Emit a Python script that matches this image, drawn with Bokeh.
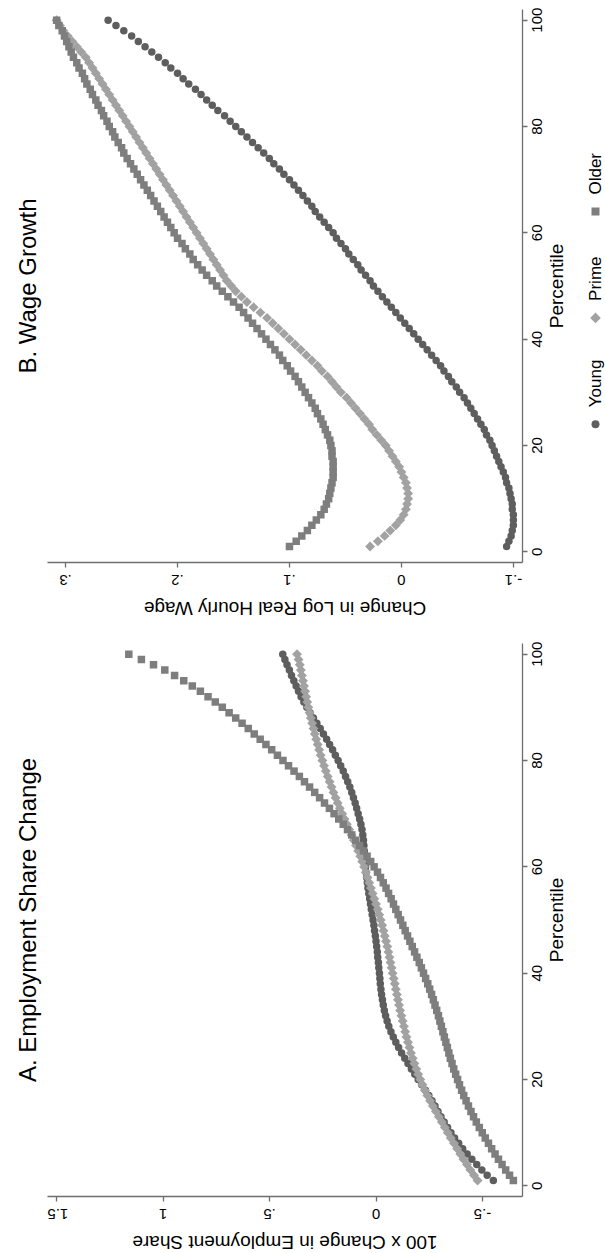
import math

from bokeh.core.properties import value
from bokeh.embed import file_html
from bokeh.layouts import column, row
from bokeh.models import FixedTicker, LinearAxis, Range1d
from bokeh.plotting import figure
from bokeh.resources import INLINE

FONT = "Liberation Sans"

# ---- data -------------------------------------------------------------
percentile = list(range(1, 101))
pct_ticks = [0, 20, 40, 60, 80, 100]
pct_tick_labels = ["0", "20", "40", "60", "80", "100"]

groups = ["Young", "Prime", "Older"]

emp_ticks = [-0.5, 0, 0.5, 1, 1.5]
emp_tick_labels = ["-.5", "0", ".5", "1", "1.5"]
wage_ticks = [-0.1, 0, 0.1, 0.2, 0.3]
wage_tick_labels = ["-.1", "0", ".1", ".2", ".3"]

# 100 x change in employment share, by wage percentile
emp_young = [
    -0.551, -0.522, -0.497, -0.473, -0.450, -0.428, -0.407, -0.388, -0.369, -0.352,
    -0.336, -0.320, -0.305, -0.291, -0.277, -0.263, -0.248, -0.232, -0.215, -0.198,
    -0.182, -0.166, -0.150, -0.135, -0.120, -0.106, -0.093, -0.081, -0.070, -0.060,
    -0.052, -0.045, -0.039, -0.034, -0.030, -0.026, -0.023, -0.020, -0.018, -0.016,
    -0.013, -0.011, -0.008, -0.006, -0.003, 0.000, 0.003, 0.007, 0.010, 0.014,
    0.018, 0.022, 0.026, 0.030, 0.034, 0.038, 0.041, 0.044, 0.047, 0.049,
    0.051, 0.053, 0.055, 0.057, 0.059, 0.062, 0.066, 0.071, 0.077, 0.084,
    0.091, 0.098, 0.106, 0.114, 0.123, 0.133, 0.143, 0.154, 0.166, 0.178,
    0.191, 0.204, 0.218, 0.232, 0.247, 0.262, 0.278, 0.294, 0.310, 0.325,
    0.339, 0.352, 0.364, 0.375, 0.386, 0.397, 0.407, 0.418, 0.428, 0.438,
]
emp_prime = [
    -0.477, -0.460, -0.443, -0.427, -0.411, -0.396, -0.381, -0.366, -0.351, -0.337,
    -0.323, -0.309, -0.295, -0.281, -0.267, -0.254, -0.241, -0.229, -0.218, -0.208,
    -0.198, -0.189, -0.180, -0.172, -0.164, -0.157, -0.150, -0.143, -0.137, -0.131,
    -0.125, -0.119, -0.113, -0.108, -0.103, -0.098, -0.093, -0.088, -0.083, -0.078,
    -0.073, -0.068, -0.063, -0.058, -0.053, -0.047, -0.041, -0.035, -0.029, -0.022,
    -0.015, -0.008, 0.000, 0.008, 0.016, 0.024, 0.032, 0.040, 0.048, 0.056,
    0.065, 0.074, 0.084, 0.094, 0.104, 0.115, 0.126, 0.137, 0.148, 0.159,
    0.170, 0.180, 0.190, 0.200, 0.209, 0.218, 0.227, 0.236, 0.244, 0.252,
    0.260, 0.267, 0.274, 0.281, 0.288, 0.294, 0.300, 0.306, 0.312, 0.318,
    0.323, 0.328, 0.333, 0.338, 0.343, 0.348, 0.353, 0.358, 0.364, 0.371,
]
emp_older = [
    -0.645, -0.627, -0.609, -0.592, -0.575, -0.559, -0.543, -0.528, -0.513, -0.499,
    -0.485, -0.471, -0.458, -0.446, -0.434, -0.423, -0.412, -0.402, -0.392, -0.383,
    -0.374, -0.365, -0.357, -0.349, -0.342, -0.335, -0.328, -0.321, -0.314, -0.307,
    -0.300, -0.293, -0.285, -0.277, -0.269, -0.261, -0.252, -0.243, -0.233, -0.223,
    -0.213, -0.203, -0.192, -0.181, -0.170, -0.159, -0.148, -0.137, -0.126, -0.115,
    -0.104, -0.093, -0.082, -0.071, -0.059, -0.047, -0.034, -0.021, -0.007, 0.009,
    0.025, 0.042, 0.059, 0.077, 0.095, 0.114, 0.134, 0.154, 0.175, 0.197,
    0.219, 0.242, 0.265, 0.288, 0.312, 0.336, 0.360, 0.385, 0.411, 0.437,
    0.463, 0.490, 0.517, 0.544, 0.572, 0.600, 0.629, 0.659, 0.690, 0.722,
    0.755, 0.789, 0.825, 0.863, 0.903, 0.946, 0.992, 1.045, 1.102, 1.161,
]

# change in log real hourly wage, by wage percentile
wage_young = [
    -0.094, -0.096, -0.098, -0.099, -0.100, -0.100, -0.100, -0.099, -0.099, -0.098,
    -0.097, -0.096, -0.094, -0.093, -0.091, -0.089, -0.087, -0.085, -0.083, -0.081,
    -0.079, -0.076, -0.074, -0.071, -0.068, -0.065, -0.062, -0.059, -0.056, -0.052,
    -0.049, -0.045, -0.042, -0.038, -0.035, -0.031, -0.027, -0.023, -0.019, -0.015,
    -0.011, -0.007, -0.003, 0.001, 0.005, 0.009, 0.013, 0.017, 0.021, 0.025,
    0.028, 0.032, 0.036, 0.039, 0.043, 0.047, 0.050, 0.054, 0.058, 0.061,
    0.065, 0.069, 0.073, 0.077, 0.080, 0.084, 0.088, 0.092, 0.096, 0.100,
    0.105, 0.109, 0.114, 0.118, 0.123, 0.128, 0.133, 0.138, 0.143, 0.148,
    0.153, 0.158, 0.164, 0.169, 0.174, 0.179, 0.184, 0.190, 0.195, 0.200,
    0.206, 0.211, 0.217, 0.223, 0.229, 0.235, 0.241, 0.248, 0.255, 0.262,
]
wage_prime = [
    0.028, 0.021, 0.015, 0.010, 0.005, 0.001, -0.002, -0.004, -0.005, -0.006,
    -0.006, -0.005, -0.004, -0.002, 0.000, 0.002, 0.005, 0.008, 0.011, 0.014,
    0.018, 0.022, 0.026, 0.029, 0.033, 0.037, 0.041, 0.045, 0.049, 0.054,
    0.058, 0.062, 0.066, 0.071, 0.075, 0.080, 0.085, 0.090, 0.095, 0.100,
    0.105, 0.110, 0.115, 0.120, 0.126, 0.132, 0.138, 0.143, 0.148, 0.152,
    0.156, 0.159, 0.162, 0.165, 0.168, 0.171, 0.174, 0.177, 0.180, 0.183,
    0.186, 0.189, 0.192, 0.195, 0.198, 0.201, 0.204, 0.207, 0.210, 0.213,
    0.216, 0.219, 0.222, 0.225, 0.228, 0.231, 0.234, 0.237, 0.240, 0.243,
    0.246, 0.249, 0.252, 0.255, 0.258, 0.261, 0.264, 0.267, 0.270, 0.273,
    0.276, 0.279, 0.282, 0.286, 0.290, 0.294, 0.298, 0.302, 0.305, 0.308,
]
wage_older = [
    0.100, 0.094, 0.089, 0.084, 0.080, 0.076, 0.072, 0.069, 0.067, 0.065,
    0.064, 0.063, 0.062, 0.061, 0.061, 0.061, 0.061, 0.062, 0.062, 0.063,
    0.064, 0.066, 0.068, 0.070, 0.072, 0.075, 0.077, 0.080, 0.083, 0.086,
    0.089, 0.092, 0.095, 0.099, 0.102, 0.106, 0.109, 0.113, 0.117, 0.121,
    0.125, 0.129, 0.133, 0.137, 0.141, 0.145, 0.150, 0.155, 0.160, 0.165,
    0.169, 0.174, 0.178, 0.182, 0.186, 0.189, 0.193, 0.196, 0.200, 0.203,
    0.206, 0.209, 0.212, 0.215, 0.218, 0.221, 0.224, 0.227, 0.230, 0.233,
    0.236, 0.239, 0.242, 0.245, 0.248, 0.250, 0.253, 0.256, 0.258, 0.261,
    0.263, 0.266, 0.268, 0.271, 0.273, 0.276, 0.278, 0.281, 0.283, 0.285,
    0.288, 0.290, 0.293, 0.295, 0.297, 0.299, 0.301, 0.303, 0.306, 0.308,
]

# ---- styling ----------------------------------------------------------
AXIS_GRAY = "#6e6e6e"
marker_style = {
    "Young": dict(marker="circle", color="#5e5e5e", size=7.5, angle=0.0),
    "Prime": dict(marker="square", color="#a2a2a2", size=7.0, angle=math.pi / 4),
    "Older": dict(marker="square", color="#7e7e7e", size=7.5, angle=0.0),
}

PAGE_W = 605
FRAME_W = 475
FRAME_H = 553
LEFT = 47
TICK_PX = "15px"
TITLE_PX = "19px"

# advance widths (em) of the glyphs used in rotated axis text
ADVANCE = {c: 0.556 for c in "0123456789"}
ADVANCE.update({".": 0.278, "-": 0.333, "P": 0.667, "e": 0.556, "r": 0.333,
                "c": 0.5, "n": 0.556, "t": 0.278, "i": 0.222, "l": 0.222})


def text_px(s, size):
    return sum(ADVANCE[c] for c in s) * float(size.rstrip("px"))


def padded_range(values, ticks):
    """Axis extent: data and tick span together, with a 2% margin each side."""
    lo = min(min(values), ticks[0])
    hi = max(max(values), ticks[-1])
    pad = 0.02 * (hi - lo)
    return lo - pad, hi + pad


def tick_axis(ax, ticks):
    """Axis line and outward tick marks; its text is carried by a text axis."""
    ax.ticker = FixedTicker(ticks=ticks)
    ax.axis_line_color = AXIS_GRAY
    ax.axis_line_width = 1.3
    ax.major_tick_line_color = AXIS_GRAY
    ax.major_tick_line_width = 1.3
    ax.major_tick_in = 0
    ax.major_tick_out = 5
    ax.minor_tick_line_color = None
    ax.major_label_overrides = {t: "" for t in ticks}
    ax.major_label_text_font_size = "0px"
    ax.major_label_standoff = 0


def text_axis(where, texts, orientation, standoff, size):
    """Bare axis that only writes rotated text, one entry per position."""
    ax = LinearAxis(ticker=FixedTicker(ticks=where),
                    major_label_overrides=dict(zip(where, texts)),
                    major_label_orientation=orientation,
                    major_label_standoff=standoff)
    ax.axis_line_color = None
    ax.major_tick_line_color = None
    ax.minor_tick_line_color = None
    ax.major_tick_in = 0
    ax.major_tick_out = 0
    ax.major_label_text_font = FONT
    ax.major_label_text_font_size = size
    ax.major_label_text_color = "black"
    return ax


def make_panel(title, series, ticks, tick_labels, border_top, border_bottom, border_right):
    all_vals = [v for g in groups for v in series[g]]
    vlo, vhi = padded_range(all_vals, ticks)
    plo, phi = padded_range(percentile, pct_ticks)
    px_per_v = FRAME_W / (vhi - vlo)
    px_per_p = FRAME_H / (phi - plo)

    p = figure(frame_width=FRAME_W, frame_height=FRAME_H,
               x_range=Range1d(vhi, vlo), y_range=Range1d(plo, phi),
               x_axis_location="below", y_axis_location="right",
               title=title, title_location="left",
               min_border_left=LEFT, min_border_right=border_right,
               min_border_top=border_top, min_border_bottom=border_bottom,
               output_backend="svg", toolbar_location=None)
    p.background_fill_color = "white"
    p.border_fill_color = "white"
    p.outline_line_color = None
    p.xgrid.visible = False
    p.ygrid.visible = False

    p.title.text_font = FONT
    p.title.text_font_size = "24px"
    p.title.text_font_style = "normal"
    p.title.text_color = "black"
    p.title.align = "center"
    p.title.standoff = 14

    # value axis: values grow towards the left, labels read upside down;
    # rotated labels hang from one end, so each sits half its width over
    tick_axis(p.xaxis[0], ticks)
    x_pos = [min(t + text_px(s, TICK_PX) / 2 / px_per_v, vhi - 1e-9)
             for t, s in zip(ticks, tick_labels)]
    p.add_layout(text_axis(x_pos, tick_labels, math.pi, 12, TICK_PX), "below")

    # percentile axis on the right, labels read bottom to top
    tick_axis(p.yaxis[0], pct_ticks)
    y_pos = [t - text_px(s, TICK_PX) / 2 / px_per_p
             for t, s in zip(pct_ticks, pct_tick_labels)]
    p.add_layout(text_axis(y_pos, pct_tick_labels, math.pi / 2, 10, TICK_PX), "right")
    mid_p = (plo + phi) / 2 - text_px("Percentile", TITLE_PX) / 2 / px_per_p
    p.add_layout(text_axis([mid_p], ["Percentile"], math.pi / 2, 6, TITLE_PX), "right")

    for g in groups:
        st = marker_style[g]
        p.scatter(x=series[g], y=percentile, marker=st["marker"], size=st["size"],
                  angle=st["angle"], fill_color=st["color"], line_color=None)
    return p


def value_title(panel, text, height):
    """Strip under a panel holding its upside-down value-axis title."""
    xr = panel.x_range
    s = figure(frame_width=FRAME_W, frame_height=height,
               x_range=xr, y_range=Range1d(0, height),
               x_axis_type=None, y_axis_type=None,
               min_border_left=LEFT, min_border_right=PAGE_W - LEFT - FRAME_W,
               min_border_top=0, min_border_bottom=0,
               output_backend="svg", toolbar_location=None)
    s.outline_line_color = None
    s.background_fill_color = "white"
    s.border_fill_color = "white"
    s.text(x=[(xr.start + xr.end) / 2], y=[height / 2], text=[text], angle=math.pi,
           text_font=value(FONT), text_font_size=TITLE_PX, text_color="black",
           text_align="center", text_baseline="middle")
    return s


def make_key(y_range, border_top, border_bottom, width):
    """Narrow strip holding the series key, sharing the panel's percentile scale."""
    k = figure(frame_width=width, frame_height=FRAME_H,
               x_range=Range1d(0, width), y_range=y_range,
               x_axis_type=None, y_axis_type=None,
               min_border_left=0, min_border_right=0,
               min_border_top=border_top, min_border_bottom=border_bottom,
               output_backend="svg", toolbar_location=None)
    k.outline_line_color = None
    k.background_fill_color = "white"
    k.border_fill_color = "white"
    kx = width - 10
    for i, g in enumerate(groups):
        st = marker_style[g]
        ky = 24 + 20 * i
        k.scatter(x=[kx], y=[ky], marker=st["marker"], size=st["size"] + 0.5,
                  angle=st["angle"], fill_color=st["color"], line_color=None)
        k.text(x=[kx], y=[ky + 3.2], text=[g], angle=math.pi / 2,
               text_font=value(FONT), text_font_size="17px", text_color="black",
               text_align="left", text_baseline="middle")
    return k


wage_series = {"Young": wage_young, "Prime": wage_prime, "Older": wage_older}
emp_series = {"Young": emp_young, "Prime": emp_prime, "Older": emp_older}

KEY_W = 23
panel_b = make_panel("B. Wage Growth", wage_series, wage_ticks, wage_tick_labels,
                     9, 34, PAGE_W - KEY_W - LEFT - FRAME_W)
key_b = make_key(panel_b.y_range, 9, 34, KEY_W)
title_b = value_title(panel_b, "Change in Log Real Hourly Wage", 24)

panel_a = make_panel("A. Employment Share Change", emp_series, emp_ticks, emp_tick_labels,
                     23, 34, PAGE_W - LEFT - FRAME_W)
title_a = value_title(panel_a, "100 x Change in Employment Share", 23)

layout = column(row(panel_b, key_b), title_b, panel_a, title_a)

with open("out.html", "w") as f:
    f.write(file_html(layout, INLINE))
